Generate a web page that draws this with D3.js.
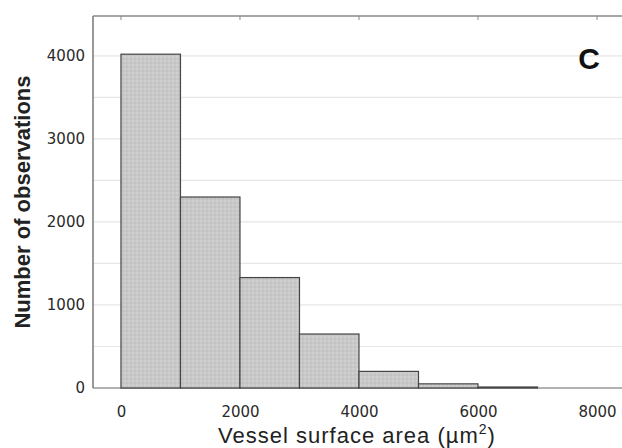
<!DOCTYPE html>
<html>
<head>
<meta charset="utf-8">
<script src="https://cdnjs.cloudflare.com/ajax/libs/d3/7.8.5/d3.min.js"></script>
<style>
  body { margin: 0; background: #fff; }
  svg { display: block; font-family: "Liberation Sans", Arial, sans-serif; }
</style>
</head>
<body>
<div id="chart"></div>
<script>
// histogram bins (vessel surface area, um^2) and counts
var binStarts = [0, 1000, 2000, 3000, 4000, 5000, 6000];
var binWidth = 1000;
var counts = [4020, 2300, 1330, 650, 200, 50, 12];
var xTicks = [0, 2000, 4000, 6000, 8000];
var yTicks = [0, 1000, 2000, 3000, 4000];
var gridValues = [500, 1000, 1500, 2000, 2500, 3000, 3500, 4000];

var W = 622, H = 448;
var mLeft = 93, mRight = 622, mTop = 16, mBottom = 388;

var svg = d3.select("#chart").append("svg")
    .attr("width", W).attr("height", H);

var x = d3.scaleLinear().domain([-470, 8420]).range([mLeft, mRight]);
var y = d3.scaleLinear().domain([0, 4480]).range([mBottom, mTop]);

// dotted texture like the scanned bars
var defs = svg.append("defs");
var pat = defs.append("pattern")
    .attr("id", "dots")
    .attr("width", 4).attr("height", 4)
    .attr("patternUnits", "userSpaceOnUse");
pat.append("rect").attr("width", 4).attr("height", 4).attr("fill", "#c8c8c8");
pat.append("circle").attr("cx", 1).attr("cy", 1).attr("r", 0.8).attr("fill", "#d8d8d8");
pat.append("circle").attr("cx", 3).attr("cy", 3).attr("r", 0.8).attr("fill", "#bababa");

// gridlines
svg.append("g").selectAll("line")
    .data(gridValues)
    .enter().append("line")
    .attr("x1", mLeft).attr("x2", mRight)
    .attr("y1", function(d) { return y(d); })
    .attr("y2", function(d) { return y(d); })
    .attr("stroke", "#e6e6e6")
    .attr("stroke-width", 1.2);

// baseline first so bars sit on it
svg.append("line")
    .attr("x1", mLeft).attr("x2", mRight).attr("y1", mBottom).attr("y2", mBottom)
    .attr("stroke", "#999").attr("stroke-width", 1.3);

// bars
svg.append("g").selectAll("rect")
    .data(counts)
    .enter().append("rect")
    .attr("x", function(d, i) { return x(binStarts[i]); })
    .attr("width", function(d, i) { return x(binStarts[i] + binWidth) - x(binStarts[i]); })
    .attr("y", function(d) { return y(d); })
    .attr("height", function(d) { return y(0) - y(d); })
    .attr("fill", "url(#dots)")
    .attr("stroke", "#444")
    .attr("stroke-width", 1.2);

// frame: left and top border
svg.append("line")
    .attr("x1", mLeft).attr("x2", mLeft).attr("y1", mTop).attr("y2", mBottom)
    .attr("stroke", "#777").attr("stroke-width", 1.5);
svg.append("line")
    .attr("x1", mLeft).attr("x2", mRight).attr("y1", mTop).attr("y2", mTop)
    .attr("stroke", "#888").attr("stroke-width", 1.3);

// axes
var xAxis = d3.axisBottom(x).tickValues(xTicks).tickSize(0).tickPadding(18)
    .tickFormat(d3.format("d"));
var gx = svg.append("g").attr("transform", "translate(0," + mBottom + ")").call(xAxis);
gx.select(".domain").remove();
gx.selectAll("text").attr("font-family", "DejaVu Sans").attr("font-size", 15).attr("fill", "#2a2a2a");

var yAxis = d3.axisLeft(y).tickValues(yTicks).tickSize(0).tickPadding(8)
    .tickFormat(d3.format("d"));
var gy = svg.append("g").attr("transform", "translate(" + mLeft + ",0)").call(yAxis);
gy.select(".domain").remove();
gy.selectAll("text").attr("font-family", "DejaVu Sans").attr("font-size", 15).attr("fill", "#2a2a2a");

// small tick marks along top border
svg.append("g").selectAll("line")
    .data(xTicks)
    .enter().append("line")
    .attr("x1", function(d) { return x(d); })
    .attr("x2", function(d) { return x(d); })
    .attr("y1", mTop).attr("y2", mTop + 4)
    .attr("stroke", "#888");

// labels
svg.append("text")
    .attr("transform", "translate(30," + 202 + ") rotate(-90)")
    .attr("text-anchor", "middle")
    .attr("font-size", 22).attr("font-weight", "bold").attr("fill", "#222")
    .text("Number of observations");

var xl = svg.append("text")
    .attr("x", 357).attr("y", 443)
    .attr("text-anchor", "middle")
    .attr("font-size", 22).attr("letter-spacing", 1).attr("fill", "#222");
xl.append("tspan").text("Vessel surface area (\u00b5m");
xl.append("tspan").attr("dy", -9).attr("font-size", 14).text("2");
xl.append("tspan").attr("dy", 9).text(")");

svg.append("text")
    .attr("x", 589).attr("y", 69)
    .attr("text-anchor", "middle")
    .attr("font-size", 30).attr("font-weight", "bold").attr("fill", "#111")
    .text("C");
</script>
</body>
</html>
